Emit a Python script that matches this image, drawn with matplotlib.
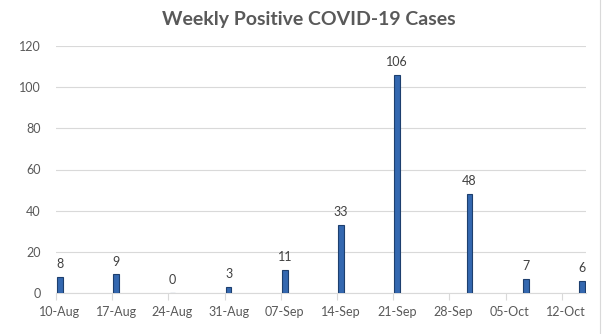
import datetime as dt
import matplotlib
matplotlib.use("Agg")
import matplotlib.pyplot as plt
import matplotlib.dates as mdates

# weekly positive case counts, by the date each report was made
report_dates = [dt.date(2020, 8, 10), dt.date(2020, 8, 17), dt.date(2020, 8, 24),
                dt.date(2020, 8, 31), dt.date(2020, 9, 7), dt.date(2020, 9, 14),
                dt.date(2020, 9, 21), dt.date(2020, 9, 30), dt.date(2020, 10, 7),
                dt.date(2020, 10, 14)]
cases = [8, 9, 0, 3, 11, 33, 106, 48, 7, 6]

# weekly axis labels
tick_dates = [dt.date(2020, 8, 10) + dt.timedelta(days=7 * i) for i in range(10)]
tick_labels = ['10-Aug', '17-Aug', '24-Aug', '31-Aug', '07-Sep',
               '14-Sep', '21-Sep', '28-Sep', '05-Oct', '12-Oct']
y_ticks = [0, 20, 40, 60, 80, 100, 120]

plt.rcParams['font.family'] = ['Lato', 'DejaVu Sans']

fig = plt.figure(figsize=(6.02, 3.34), dpi=100)
ax = fig.add_axes([56 / 602, 41 / 334, 530 / 602, 247 / 334])

x = mdates.date2num(report_dates)
bars = ax.bar(x, cases, width=0.7, color='#3468B0', edgecolor='#1D3F6E',
              linewidth=0.8, zorder=3)
for xi, v in zip(x, cases):
    ax.annotate(str(v), (xi, v), xytext=(0, 5), textcoords='offset points',
                ha='center', va='bottom', fontsize=9, color='#404040')

tx = mdates.date2num(tick_dates)
ax.set_xlim(tx[0] - 0.5, mdates.date2num(report_dates[-1]) + 0.5)
ax.set_xticks(tx)
ax.set_xticklabels(tick_labels)
ax.set_xticks(tx - 0.5, minor=True)
ax.tick_params(axis='x', which='major', length=0, pad=9, labelsize=9,
               labelcolor='#595959')
ax.tick_params(axis='x', which='minor', length=5, color='#D9D9D9', width=0.8)

ax.set_ylim(0, 120)
ax.set_yticks(y_ticks)
ax.tick_params(axis='y', length=0, pad=11, labelsize=9, labelcolor='#595959')
ax.yaxis.grid(True, color='#D9D9D9', linewidth=0.8, zorder=0)
ax.set_axisbelow(True)

for side in ['top', 'right', 'left']:
    ax.spines[side].set_visible(False)
ax.spines['bottom'].set_color('#D9D9D9')
ax.spines['bottom'].set_linewidth(0.8)

fig.text(0.513, 1 - 20 / 334, 'Weekly Positive COVID-19 Cases', ha='center',
         va='center', fontsize=14, fontweight='bold', color='#595959')

# chart frame edge
fig.add_artist(plt.Line2D([600 / 602, 600 / 602], [0, 1], color='#D9D9D9',
                          linewidth=0.8, transform=fig.transFigure))

fig.savefig('out.png', dpi=100, facecolor='white')
